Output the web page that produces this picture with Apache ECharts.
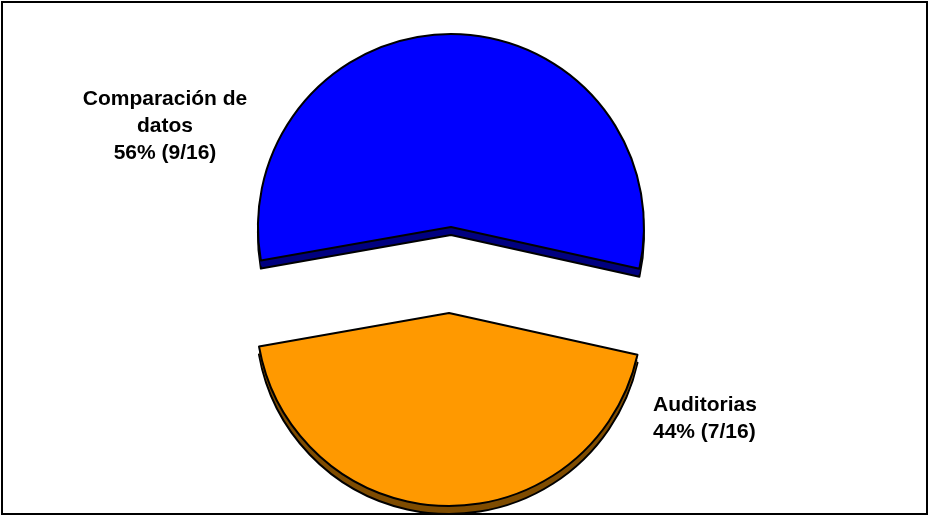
<!DOCTYPE html>
<html>
<head>
<meta charset="utf-8">
<script src="https://cdn.jsdelivr.net/npm/echarts@6/dist/echarts.min.js"></script>
<style>
  html, body { margin: 0; padding: 0; background: #fff; }
  #chart { width: 930px; height: 517px; }
</style>
</head>
<body>
<div id="chart"></div>
<script>
// Categories and counts for the exploded pie
const categories = ['Comparación de datos', 'Auditorias'];
const labelNames = ['Comparación de\ndatos', 'Auditorias'];
const counts = [9, 7];
const topColors = ['#0000FF', '#FF9900'];
const sideColors = ['#000080', '#7F4C00'];

const total = counts.reduce((a, b) => a + b, 0);

const chart = echarts.init(document.getElementById('chart'), null, { renderer: 'canvas' });

const FONT = 'Arial, "Liberation Sans", sans-serif';
const CX = 450, CY = 270, R = 193, DEPTH = 8;

// Label anchor spots, one per category
const labelSpots = [
  { x: 165, y: 126, align: 'center' },
  { x: 653, y: 419, align: 'left' }
];

function pieData(colors) {
  return categories.map((name, i) => ({
    name: name,
    value: counts[i],
    selected: true,
    itemStyle: { color: colors[i] }
  }));
}

// One pie layer; stacked layers shifted down give the slab its depth
function layer(dy, colors, border, z) {
  return {
    type: 'pie',
    z: z,
    silent: true,
    animation: false,
    center: [CX, CY + dy],
    radius: [0, R],
    startAngle: 190,
    clockwise: true,
    selectedMode: 'multiple',
    selectedOffset: 43,
    emphasis: { disabled: true, scale: false },
    select: { itemStyle: { borderColor: '#000', borderWidth: border } },
    itemStyle: { borderColor: '#000', borderWidth: border },
    label: { show: false },
    labelLine: { show: false },
    data: pieData(colors)
  };
}

const labels = categories.map((name, i) => {
  const pct = Math.round(counts[i] / total * 100);
  const s = labelSpots[i];
  return {
    type: 'text',
    z: 50,
    silent: true,
    x: s.x,
    y: s.y,
    style: {
      text: labelNames[i] + '\n' + pct + '% (' + counts[i] + '/' + total + ')',
      fill: '#000',
      font: 'bold 21px ' + FONT,
      lineHeight: 27,
      textAlign: s.align,
      textVerticalAlign: 'middle'
    }
  };
});

chart.setOption({
  backgroundColor: '#fff',
  animation: false,
  graphic: [{
    type: 'rect',
    z: 100,
    silent: true,
    shape: { x: 2, y: 2, width: 925, height: 512 },
    style: { fill: 'none', stroke: '#000', lineWidth: 2 }
  }].concat(labels),
  series: [
    layer(DEPTH, sideColors, 2, 1),
    layer(DEPTH * 0.66, sideColors, 0, 2),
    layer(DEPTH * 0.33, sideColors, 0, 3),
    layer(0, topColors, 2, 4)
  ]
});
</script>
</body>
</html>
